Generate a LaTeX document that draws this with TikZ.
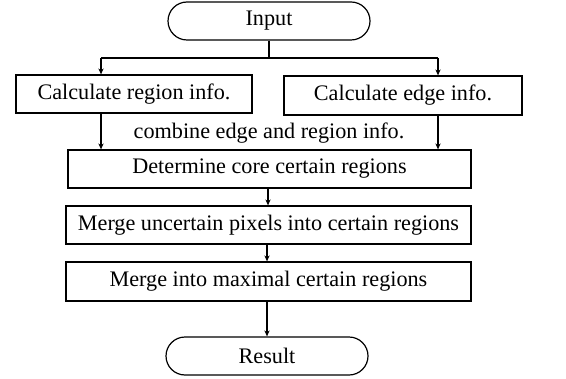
\documentclass[tikz,border=0pt]{standalone}
\usepackage{fontspec}
\setmainfont{Liberation Serif}
\usetikzlibrary{arrows.meta,shapes.misc}
\begin{document}
\begin{tikzpicture}[x=0.5pt,y=-0.5pt,
  font=\fontsize{11.1}{13}\selectfont,
  line width=0.6pt,
  stepbox/.style={draw, rectangle, inner sep=0pt},
  term/.style={draw, rounded rectangle, inner sep=0pt, minimum width=101pt, minimum height=19pt},
  arr/.style={-{Stealth[length=3pt,width=2.6pt]}}]
\useasboundingbox (0,0) rectangle (566,379);
\node[term] (input) at (269,21) {Input};
\node[stepbox, minimum width=118pt, minimum height=19pt] (left) at (134,94) {Calculate region info.};
\node[stepbox, minimum width=119pt, minimum height=19.5pt] (right) at (403,95.5) {Calculate edge info.};
\node (comb) at (269,133) {combine edge and region info.};
\node[stepbox, minimum width=201.5pt, minimum height=19pt] (det) at (269.5,169) {Determine core certain regions};
\node[stepbox, minimum width=202.5pt, minimum height=19pt] (m1) at (268.5,225) {Merge uncertain pixels into certain regions};
\node[stepbox, minimum width=202.5pt, minimum height=19.5pt] (m2) at (268.5,281.5) {Merge into maximal certain regions};
\node[term] (res) at (267,356) {Result};
\coordinate (br) at (269,58);
\coordinate (bl) at (101,58);
\coordinate (bR) at (438,58);
\draw (input.south) -- (br);
\draw (bl) -- (bR);
\draw[arr] (bl) -- (bl |- left.north);
\draw[arr] (bR) -- (bR |- right.north);
\draw[arr] (bl |- left.south) -- (bl |- det.north);
\draw[arr] (bR |- right.south) -- (bR |- det.north);
\draw[arr] (det.south -| 268,0) -- (m1.north -| 268,0);
\draw[arr] (m1.south -| 267,0) -- (m2.north -| 267,0);
\draw[arr] (m2.south -| 267,0) -- (res.north);
\end{tikzpicture}
\end{document}
